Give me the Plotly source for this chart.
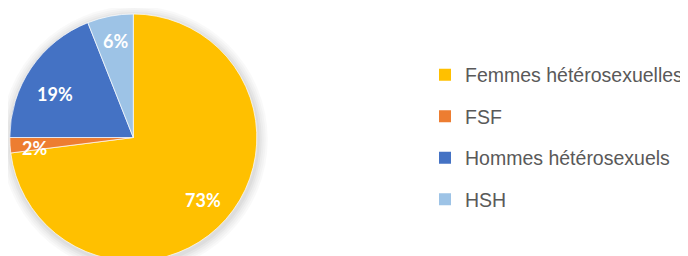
import math
import plotly.graph_objects as go

categories = ["Femmes hétérosexuelles", "FSF", "Hommes hétérosexuels", "HSH"]
values = [73, 2, 19, 6]
colors = ["#FFC000", "#ED7D31", "#4472C4", "#9DC3E6"]

W, H = 688, 300
OFF = 8  # body margin of the page
cx_page, cy_page, r = 133.3, 137.5, 123.5
cx, cy = cx_page - OFF, cy_page - OFF

# label placement tweaks (pixels), mimicking the best-fit placement
label_radius = [0.75, 0.81, 0.75, 0.76]
label_dx = [0, 1, -2, 0]
label_dy = [1, 4, 9, -4]

fig = go.Figure()

# soft shadow around the pie
for i, a in enumerate([0.025, 0.025, 0.025, 0.03, 0.03]):
    rr = r + 10 - i * 2
    fig.add_shape(type="circle", xref="paper", yref="paper", layer="below",
                  x0=(cx + 1 - rr) / W, x1=(cx + 1 + rr) / W,
                  y0=1 - (cy + 2 + rr) / H, y1=1 - (cy + 2 - rr) / H,
                  line=dict(width=0), fillcolor=f"rgba(0,0,0,{a})")

fig.add_trace(go.Pie(
    labels=categories, values=values, sort=False, direction="clockwise",
    rotation=0, marker=dict(colors=colors, line=dict(color="white", width=0.7)),
    textinfo="none", hoverinfo="label+percent", showlegend=False,
    domain=dict(x=[(cx - r) / W, (cx + r) / W], y=[1 - (cy + r) / H, 1 - (cy - r) / H]),
))

# data labels positioned from slice mid-angles
total = sum(values)
cum = 0
for i, v in enumerate(values):
    mid = (cum + v / 2) / total * 2 * math.pi
    cum += v
    f = label_radius[i]
    px = cx + f * r * math.sin(mid) + label_dx[i]
    py = cy - f * r * math.cos(mid) + label_dy[i]
    fig.add_annotation(x=px / W, y=1 - py / H, xref="paper", yref="paper",
                       xanchor="center", yanchor="middle",
                       text=f"{round(v / total * 100)}%", showarrow=False,
                       font=dict(family="Lato", size=18, color="white", weight="bold"))

# legend entries
for i, (c, col) in enumerate(zip(categories, colors)):
    fig.add_trace(go.Scatter(x=[None], y=[None], mode="markers", name=c,
                             legendgroup=f"g{i}",
                             marker=dict(symbol="square", size=12, color=col)))

fig.update_layout(
    width=W, height=H, margin=dict(l=0, r=0, t=0, b=0),
    paper_bgcolor="white", plot_bgcolor="white",
    xaxis=dict(visible=False), yaxis=dict(visible=False),
    legend=dict(x=(425 - OFF) / W, xanchor="left", y=1 - (55.5 - OFF) / H, yanchor="top",
                tracegroupgap=13.2, font=dict(family="Liberation Sans", size=19.5, color="#595959")),
)

fig.write_html("out.html")
